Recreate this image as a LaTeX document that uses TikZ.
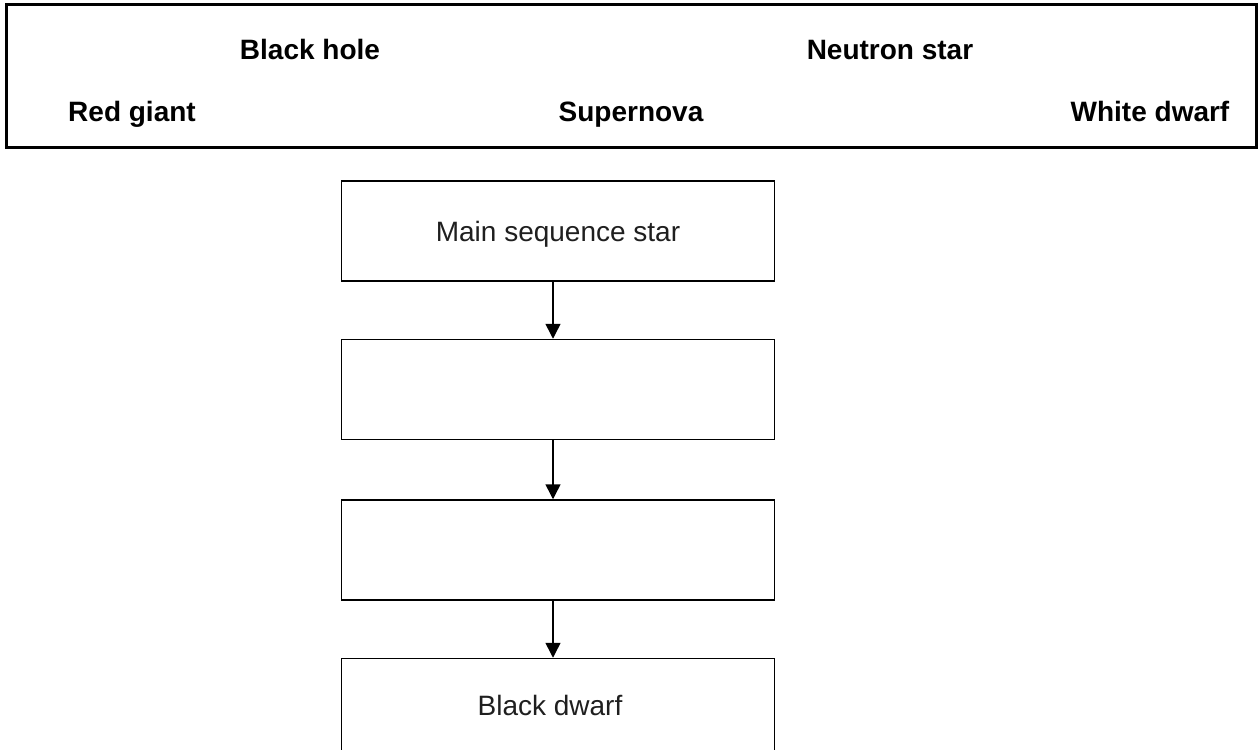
\documentclass[tikz,border=0pt]{standalone}
\usepackage{fontspec}
\setmainfont{Liberation Sans}
\usetikzlibrary{positioning,arrows.meta}
\begin{document}
\begin{tikzpicture}[x=0.5pt,y=-0.5pt]
	\tikzset{word/.style={font=\fontsize{14}{16}\selectfont\bfseries,inner sep=0pt,anchor=base},
	         stage/.style={draw,line width=0.75pt,minimum width=216.5pt,minimum height=50pt,
	                       text height=10pt,text depth=0pt,
	                       font=\fontsize{14}{16}\selectfont,text=black!88},
	         flow/.style={line width=0.75pt,-{Triangle[length=7.5pt,width=7.5pt]}}}
	\useasboundingbox (0,0) rectangle (1260,750);
	\clip (0,0) rectangle (1260,750);
	\coordinate (bankNW) at (6,4);
	\coordinate (bankSE) at (1256,147);
	\draw[line width=1.5pt] (bankNW) rectangle (bankSE);
	\node[word] (hole) at (310,59) {Black hole};
	\node[word] (neutron) at (890,59) {Neutron star};
	\node[word] (giant) at (132,121) {Red giant};
	\node[word] (nova) at (631,121) {Supernova};
	\node[word] (white) at (1150,121) {White dwarf};
	\node[stage,text depth=-2pt] (main) at (558,231) {Main sequence star};
	\node[stage,below=28.5pt of main] (second) {};
	\node[stage,below=29.5pt of second] (third) {};
	\node[stage,below=28.5pt of third,text depth=3pt] (black) {\hspace*{-8pt}Black dwarf};
	\draw[flow] (main.south -| 553,0) -- (second.north -| 553,0);
	\draw[flow] (second.south -| 553,0) -- (third.north -| 553,0);
	\draw[flow] (third.south -| 553,0) -- (black.north -| 553,0);
\end{tikzpicture}
\end{document}
